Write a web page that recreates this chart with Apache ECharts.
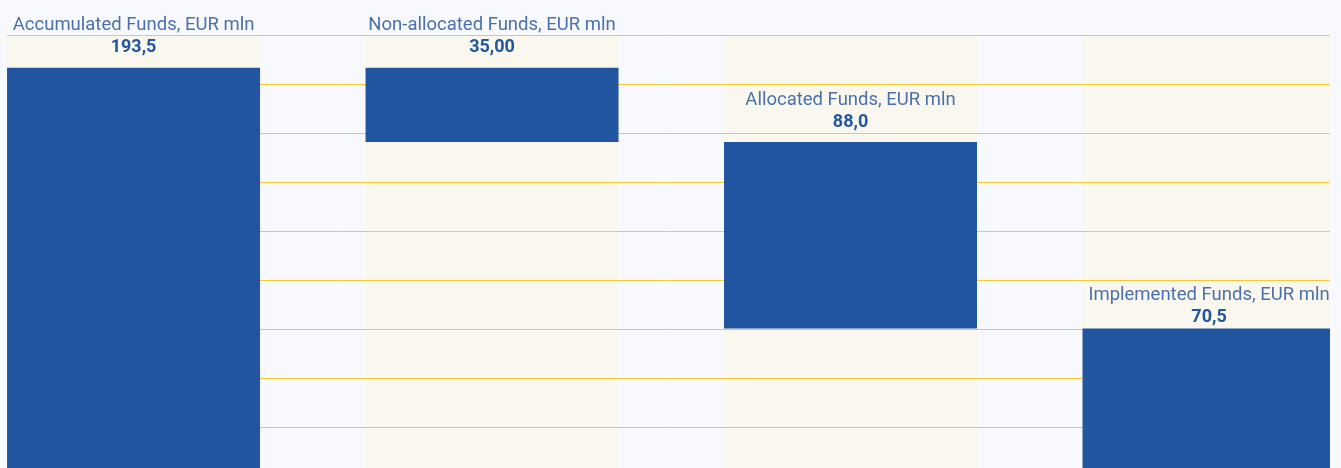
<!DOCTYPE html>
<html>
<head>
<meta charset="utf-8">
<script src="https://cdn.jsdelivr.net/npm/echarts@6/dist/echarts.min.js"></script>
<style>
  html, body { margin: 0; padding: 0; background: #f8f9fd; }
  #chart { width: 1341px; height: 468px; }
</style>
</head>
<body>
<div id="chart"></div>
<script>
// data
var categories = ['Accumulated Funds, EUR mln', 'Non-allocated Funds, EUR mln', 'Allocated Funds, EUR mln', 'Implemented Funds, EUR mln'];
var values = [193.5, 35, 88, 70.5];
var valueText = ['193,5', '35,00', '88,0', '70,5'];

// waterfall base: first and last start at zero, the middle ones hang from the previous level
var bases = [];
var level = values[0];
for (var i = 0; i < values.length; i++) {
  if (i === 0 || i === values.length - 1) {
    bases.push(0);
  } else {
    level = level - values[i];
    bases.push(level);
  }
}

// axis window (the plot is cut at the bottom and on the right, like the source)
var yMin = 4.7, yMax = 209;
var xMin = -0.353, xMax = 3.3375;
var COL_W = 253;

var blocks = values.map(function (v, k) { return [k, bases[k], bases[k] + v]; });
var bands = values.map(function (v, k) { return [k, yMin, yMax]; });
var tops = values.map(function (v, k) {
  var item = { value: [k, bases[k] + v] };
  // the last label sits a bit closer to its block
  if (k === values.length - 1) item.label = { distance: 0 };
  return item;
});

function renderColumn(params, api) {
  var x = api.value(0);
  var pTop = api.coord([x, api.value(2)]);
  var pBot = api.coord([x, api.value(1)]);
  var cs = params.coordSys;
  var shape = echarts.graphic.clipRectByRect(
    { x: pTop[0] - COL_W / 2, y: pTop[1], width: COL_W, height: pBot[1] - pTop[1] },
    { x: cs.x, y: cs.y, width: cs.width, height: cs.height }
  );
  return shape && { type: 'rect', shape: shape, style: api.style() };
}

var chart = echarts.init(document.getElementById('chart'));

var option = {
  backgroundColor: '#f8f9fd',
  animation: false,
  grid: [
    { left: 7, right: 11, top: 35.5, bottom: 0 },
    { left: 7, right: 11, top: 35, bottom: 0 }
  ],
  xAxis: [
    { gridIndex: 0, type: 'value', show: false, min: 0, max: 1 },
    { gridIndex: 1, type: 'value', show: false, min: xMin, max: xMax }
  ],
  yAxis: [
    {
      gridIndex: 0, type: 'value', inverse: true, min: 0, max: 8.827, interval: 1, z: 2,
      axisLine: { show: false }, axisTick: { show: false }, axisLabel: { show: false },
      splitLine: { show: true, showMaxLine: false, lineStyle: { color: '#f9c932', width: 1 } }
    },
    {
      gridIndex: 1, type: 'value', min: yMin, max: yMax, show: false,
      splitLine: { show: false }
    }
  ],
  series: [
    {
      // pale column bands
      type: 'custom',
      xAxisIndex: 1, yAxisIndex: 1,
      z: 1,
      silent: true,
      renderItem: renderColumn,
      encode: { x: 0, y: [1, 2] },
      data: bands,
      itemStyle: { color: '#faf8ee' }
    },
    {
      // waterfall blocks
      type: 'custom',
      xAxisIndex: 1, yAxisIndex: 1,
      z: 3,
      renderItem: renderColumn,
      encode: { x: 0, y: [1, 2] },
      data: blocks,
      itemStyle: { color: '#2255a0' }
    },
    {
      // labels above each block
      type: 'bar',
      xAxisIndex: 1, yAxisIndex: 1,
      barWidth: COL_W,
      z: 4,
      silent: true,
      data: tops,
      itemStyle: { color: 'transparent' },
      label: {
        show: true,
        position: 'top',
        distance: 9,
        formatter: function (p) {
          return '{n|' + categories[p.dataIndex] + '}\n{v|' + valueText[p.dataIndex] + '}';
        },
        rich: {
          n: { fontFamily: 'Roboto', fontSize: 18.5, color: '#4a70ad', lineHeight: 22 },
          v: { fontFamily: 'Roboto', fontSize: 18, fontWeight: 'bold', color: '#2356a0', lineHeight: 22 }
        }
      }
    }
  ]
};

chart.setOption(option);
</script>
</body>
</html>
